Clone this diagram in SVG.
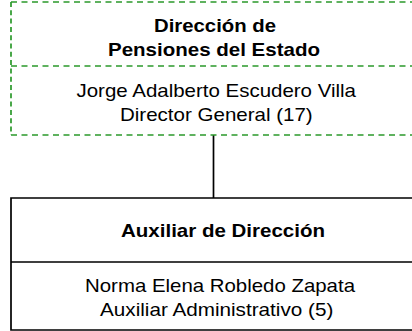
<svg xmlns="http://www.w3.org/2000/svg" width="412" height="331" viewBox="0 0 412 331">
<style>
.g{stroke:#2b992b;stroke-width:1.7;fill:none}
.gh{stroke-dasharray:6 4.5}
.gv{stroke-dasharray:5 3.3}
.k{stroke:#000;stroke-width:1.7;fill:none}
text{font-family:"Liberation Sans",Arial,sans-serif;font-size:18.5px;fill:#000}
.b{font-weight:bold}
</style>
<rect width="412" height="331" fill="#fff"/>
<g id="connectors">
<line class="k" x1="213.5" y1="135" x2="213.5" y2="198"/>
</g>
<g id="node-direccion">
<line class="g gh" x1="11" y1="2" x2="420" y2="2"/>
<line class="g gh" x1="11" y1="66" x2="420" y2="66"/>
<line class="g gh" x1="11" y1="135" x2="420" y2="135"/>
<line class="g gv" x1="11" y1="2" x2="11" y2="135"/>
<text class="b" x="154" y="31.7" textLength="122" lengthAdjust="spacingAndGlyphs">Dirección de</text>
<text class="b" x="108" y="56.2" textLength="212" lengthAdjust="spacingAndGlyphs">Pensiones del Estado</text>
<text x="76.5" y="96.7" textLength="279.5" lengthAdjust="spacingAndGlyphs">Jorge Adalberto Escudero Villa</text>
<text x="120" y="121" textLength="192.7" lengthAdjust="spacingAndGlyphs">Director General (17)</text>
</g>
<g id="node-auxiliar">
<path class="k" d="M420,198 H11 V330 H420 M11,262 H420"/>
<text class="b" x="121" y="236.5" textLength="204" lengthAdjust="spacingAndGlyphs">Auxiliar de Dirección</text>
<text x="85" y="292" textLength="270" lengthAdjust="spacingAndGlyphs">Norma Elena Robledo Zapata</text>
<text x="100" y="316" textLength="233.3" lengthAdjust="spacingAndGlyphs">Auxiliar Administrativo (5)</text>
</g>
</svg>
